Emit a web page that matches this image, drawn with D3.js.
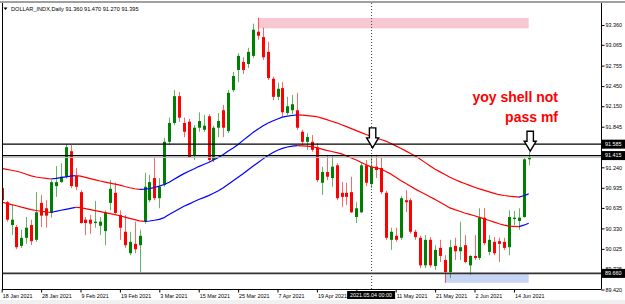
<!DOCTYPE html>
<html><head><meta charset="utf-8">
<script src="https://cdn.jsdelivr.net/npm/d3@7"></script>
<style>
html,body{margin:0;padding:0;background:#fff;overflow:hidden}
svg{display:block}
text{font-family:"Liberation Sans",Arial,sans-serif}
</style></head><body>
<svg id="c" width="625" height="304"></svg>
<script>
// ---------------- data ----------------
const symbol = "DOLLAR_INDX", period = "Daily";
const firstDay = "2021-01-18", lastDay = "2021-06-17";
const closedDays = ["2021-04-02"];

const open = [90.93,90.72,90.38,90.35,90.07,90.19,90.38,90.16,90.71,90.63,
 90.56,90.96,91.02,91.10,91.48,91.11,90.87,90.46,90.46,90.41,
 90.37,90.29,90.71,90.86,90.53,90.28,89.96,90.10,90.08,90.43,
 90.75,91.08,90.78,90.98,91.62,91.90,92.30,91.90,91.92,91.42,
 91.83,91.80,92.00,91.35,91.83,92.09,91.78,92.39,92.69,92.81,
 92.78,92.90,93.26,93.18,92.96,92.56,92.29,92.42,92.05,92.09,
 92.09,91.77,91.62,91.62,91.54,91.01,91.17,91.08,91.27,90.86,
 90.86,90.87,90.50,90.57,91.27,90.99,91.25,91.23,90.86,90.16,
 90.22,90.19,90.75,90.75,90.28,90.19,89.78,90.16,89.77,90.04,
 89.86,89.68,90.07,89.99,90.08,89.78,89.92,89.89,90.49,89.98,
 90.13,90.14,90.13,90.05,90.47,90.44,90.50,91.360];
const high = [90.96,90.74,90.68,90.38,90.31,90.50,90.46,90.87,90.83,90.75,
 91.05,91.26,91.30,91.59,91.57,91.23,90.90,90.50,90.53,90.74,
 90.50,90.60,91.05,91.01,90.60,90.53,90.28,90.43,90.31,91.16,
 91.13,91.39,91.08,91.68,91.98,92.39,92.36,91.98,91.96,91.87,
 92.06,92.02,92.03,91.86,92.05,92.17,92.39,92.66,92.94,92.88,
 93.02,93.38,93.47,93.32,93.11,92.59,92.50,92.51,92.29,92.32,
 92.35,91.80,91.75,91.72,91.60,91.25,91.42,91.42,91.30,91.02,
 91.01,91.10,90.72,91.30,91.35,91.38,91.42,91.38,90.89,90.34,
 90.34,90.81,90.90,90.78,90.31,90.22,90.23,90.20,90.08,90.16,
 89.93,90.16,90.19,90.43,90.23,89.93,90.23,90.63,90.63,90.23,
 90.20,90.19,90.19,90.60,90.59,90.63,91.38,91.470];
const low = [90.74,90.43,90.23,90.02,90.04,90.10,90.08,90.13,90.35,90.34,
 90.49,90.80,91.01,91.07,90.93,90.90,90.40,90.23,90.25,90.34,
 90.23,90.08,90.60,90.53,90.16,90.04,89.93,89.96,89.68,90.40,
 90.72,90.75,90.63,90.95,91.57,91.87,91.92,91.69,91.38,91.35,
 91.77,91.77,91.32,91.32,91.69,91.69,91.75,92.36,92.51,92.63,
 92.72,92.87,93.14,92.84,92.54,92.24,92.24,91.99,92.02,92.03,
 91.80,91.57,91.50,91.47,91.02,90.83,91.05,90.95,90.75,90.65,
 90.68,90.56,90.41,90.56,90.96,90.93,91.08,90.84,90.16,90.01,
 90.13,90.16,90.57,90.25,90.16,89.74,89.74,89.75,89.71,89.83,
 89.52,89.59,89.86,89.86,89.81,89.64,89.86,89.86,90.08,89.93,
 89.93,89.83,90.01,89.93,90.38,90.31,90.49,91.270];
const close = [90.75,90.46,90.46,90.05,90.19,90.34,90.14,90.57,90.52,90.52,
 91.02,91.02,91.10,91.54,90.96,90.95,90.41,90.41,90.40,90.43,
 90.43,90.57,90.92,90.56,90.34,90.08,90.13,90.02,90.22,90.95,
 91.02,90.78,90.95,91.62,91.90,92.30,91.98,91.77,91.39,91.83,
 91.93,91.86,91.35,91.83,91.93,91.83,92.35,92.60,92.90,92.69,
 92.96,93.29,93.20,92.88,92.57,92.29,92.41,92.06,92.15,92.18,
 91.83,91.62,91.69,91.50,91.05,91.17,91.10,91.25,90.78,90.80,
 90.80,90.57,90.63,91.27,91.01,91.25,91.20,90.87,90.19,90.28,
 90.16,90.78,90.72,90.28,90.20,89.78,90.16,89.78,90.01,89.92,
 89.68,90.05,89.99,90.05,89.83,89.92,89.89,90.49,90.11,90.16,
 89.96,90.10,90.04,90.50,90.49,90.49,91.36,91.395];

const envUpper = [91.225,91.210,91.196,91.181,91.163,91.137,91.112,91.096,91.085,91.075,
 91.066,91.075,91.087,91.097,91.108,91.117,91.109,91.090,91.072,91.054,
 91.036,91.020,91.005,90.990,90.974,90.954,90.936,90.921,90.912,90.914,
 90.923,90.939,90.959,90.984,91.018,91.061,91.105,91.146,91.182,91.215,
 91.251,91.282,91.312,91.349,91.388,91.432,91.482,91.528,91.581,91.641,
 91.699,91.757,91.808,91.854,91.896,91.929,91.960,91.987,92.002,92.012,
 92.020,92.017,92.009,92.002,91.994,91.972,91.950,91.927,91.903,91.875,
 91.847,91.817,91.787,91.757,91.728,91.702,91.678,91.655,91.631,91.596,
 91.559,91.523,91.485,91.446,91.407,91.361,91.310,91.260,91.212,91.172,
 91.132,91.091,91.059,91.027,90.999,90.971,90.944,90.918,90.896,90.874,
 90.853,90.832,90.820,90.811,90.804,90.796,90.816,90.845];
const envLower = [90.722,90.704,90.685,90.667,90.647,90.629,90.610,90.597,90.586,90.576,
 90.567,90.585,90.600,90.614,90.629,90.643,90.640,90.625,90.609,90.594,
 90.579,90.564,90.550,90.536,90.518,90.498,90.479,90.460,90.442,90.436,
 90.440,90.452,90.465,90.491,90.537,90.579,90.620,90.659,90.692,90.726,
 90.761,90.789,90.819,90.853,90.890,90.936,90.988,91.039,91.091,91.143,
 91.200,91.255,91.309,91.362,91.413,91.458,91.494,91.522,91.543,91.556,
 91.562,91.559,91.555,91.549,91.531,91.511,91.492,91.476,91.459,91.440,
 91.410,91.379,91.348,91.312,91.278,91.246,91.233,91.215,91.179,91.142,
 91.091,91.045,91.003,90.959,90.915,90.877,90.838,90.799,90.762,90.720,
 90.679,90.635,90.609,90.585,90.559,90.538,90.518,90.495,90.471,90.448,
 90.424,90.400,90.379,90.364,90.360,90.357,90.378,90.406];

const yTicks = [93.360,93.065,92.755,92.450,92.150,91.845,91.540,91.240,90.935,90.635,90.330,90.025,89.725,89.420];
const yTicksHidden = [91.540];
const xTickDates = ["2021-01-18","2021-01-28","2021-02-09","2021-02-19","2021-03-03","2021-03-15","2021-03-25","2021-04-07","2021-04-19","2021-04-29","2021-05-11","2021-05-21","2021-06-02","2021-06-14"];
const xTicksHidden = ["2021-04-29"];
const levels = [91.585, 91.415, 89.660];
const zoneDates = [["2021-03-31","2021-06-17"],["2021-05-25","2021-06-17"]];
const zonePrices = [[93.465,93.31],[89.65,89.52]];
const zoneColors = ["#f8c8d2","#c8d4f4"];
const arrowDates = ["2021-05-04","2021-06-17"];
const arrowPrices = [91.53, 91.48];
const crossDate = "2021-05-04";
const crossLabel = "2021.05.04 00:00";
const note = ["yoy shell not","pass mf"];

// ---------------- layout ----------------
const W = 625, H = 304;
const L = 2, R = 601, T = 3, B = 289.5;
const parse = d3.timeParse("%Y-%m-%d"), fmt = d3.timeFormat("%Y-%m-%d");
const dates = d3.timeDay.range(parse(firstDay), d3.timeDay.offset(parse(lastDay), 1))
  .filter(d => d.getDay() % 6 !== 0 && !closedDays.includes(fmt(d))).map(fmt);

const x = d3.scalePoint().domain(dates).range([1.7, 528.7]);
const y = d3.scaleLinear().domain([89.42, 93.36]).range([289.5, 25]);

const svg = d3.select("#c");
svg.append("rect").attr("width", W).attr("height", H).attr("fill", "#fff");
svg.append("rect").attr("x", 0).attr("y", 1).attr("width", W).attr("height", 2).attr("fill", "#a0a0a0");
svg.append("rect").attr("x", 0).attr("y", 300).attr("width", W).attr("height", 4).attr("fill", "#f0f0f0");

svg.append("clipPath").attr("id", "pc").append("rect")
  .attr("x", L).attr("y", T).attr("width", R - L).attr("height", B - T);
const plot = svg.append("g").attr("clip-path", "url(#pc)");

// zones
plot.selectAll("rect.zone").data(zoneDates).join("rect").attr("class", "zone")
  .attr("x", (d) => x(d[0]))
  .attr("width", (d) => x(d[1]) - x(d[0]))
  .attr("y", (d, i) => y(zonePrices[i][0]))
  .attr("height", (d, i) => y(zonePrices[i][1]) - y(zonePrices[i][0]))
  .attr("fill", (d, i) => zoneColors[i]);

// candles
const bull = "#008000", bear = "#ff0000";
const idx = d3.range(dates.length);
const cx = i => Math.round(x(dates[i]));
plot.selectAll("line.wick").data(idx).join("line").attr("class", "wick")
  .attr("x1", i => cx(i) + 0.5).attr("x2", i => cx(i) + 0.5)
  .attr("y1", i => y(high[i])).attr("y2", i => y(low[i]))
  .attr("stroke", i => close[i] >= open[i] ? bull : bear)
  .attr("stroke-opacity", 0.6).attr("stroke-width", 1);
plot.selectAll("rect.body").data(idx).join("rect").attr("class", "body")
  .attr("x", i => cx(i) - 1).attr("width", 3)
  .attr("y", i => y(Math.max(open[i], close[i])))
  .attr("height", i => Math.max(1, Math.abs(y(open[i]) - y(close[i]))))
  .attr("fill", i => close[i] >= open[i] ? bull : bear);

// envelope lines coloured by slope
function drawSlope(vals) {
  let runs = [], cur = null;
  for (let i = 1; i < vals.length; i++) {
    const up = vals[i] >= vals[i - 1];
    if (!cur || cur.up !== up) { cur = { up, pts: [i - 1] }; runs.push(cur); }
    cur.pts.push(i);
  }
  const ln = d3.line().x(i => x(dates[i])).y(i => y(vals[i]));
  plot.append("g").selectAll("path").data(runs).join("path")
    .attr("d", r => ln(r.pts)).attr("fill", "none")
    .attr("stroke", r => r.up ? "#0000ff" : "#ff0000")
    .attr("stroke-width", 1.2).attr("stroke-linejoin", "round");
}
drawSlope(envUpper);
drawSlope(envLower);

// bid line
plot.append("line").attr("x1", L).attr("x2", R)
  .attr("y1", y(close[close.length - 1]) + 0.5).attr("y2", y(close[close.length - 1]) + 0.5)
  .attr("stroke", "#c0c0c0").attr("stroke-width", 1);

// horizontal levels
plot.selectAll("line.lvl").data(levels).join("line").attr("class", "lvl")
  .attr("x1", L).attr("x2", R)
  .attr("y1", d => y(d)).attr("y2", d => y(d))
  .attr("stroke", (d, i) => i === 2 ? "#333" : "#000")
  .attr("stroke-width", (d, i) => i === 2 ? 1.6 : 1.2);

// crosshair vertical dotted
plot.append("line").attr("x1", x(crossDate) + 0.5).attr("x2", x(crossDate) + 0.5)
  .attr("y1", T).attr("y2", B).attr("stroke", "#404040")
  .attr("stroke-dasharray", "1,2").attr("stroke-width", 1);

// arrows (outlined down arrows, tip at price)
const arrowPath = (cxp, tip) => {
  const sw = 3.2, hw = 6, hh = 10, sh = 10;
  return `M${cxp - sw},${tip - hh - sh} H${cxp + sw} V${tip - hh} H${cxp + hw} L${cxp},${tip} L${cxp - hw},${tip - hh} H${cxp - sw} Z`;
};
plot.selectAll("path.arrow").data(arrowDates).join("path").attr("class", "arrow")
  .attr("d", (d, i) => arrowPath(x(d) + 1.5, y(arrowPrices[i])))
  .attr("fill", "#fff").attr("stroke", "#000").attr("stroke-width", 1.4)
  .attr("stroke-linejoin", "miter");

// frame
svg.append("line").attr("x1", L + 0.5).attr("x2", L + 0.5).attr("y1", T).attr("y2", B).attr("stroke", "#000");

// axes
const fs = 5.4;
const yAxis = d3.axisRight(y).tickValues(yTicks).tickSize(3)
  .tickFormat(d => yTicksHidden.includes(d) ? "" : d3.format(".3f")(d));
const gy = svg.append("g").attr("transform", `translate(${R + 0.5},0)`).call(yAxis);
gy.select(".domain").attr("d", `M0,${T}V${B}`).attr("stroke", "#000");
gy.selectAll("text").attr("x", 4).attr("font-size", fs).attr("fill", "#000")
  .attr("font-family", "Liberation Sans, Arial, sans-serif");

const xAxis = d3.axisBottom(x).tickValues(xTickDates).tickSize(3)
  .tickFormat(d => xTicksHidden.includes(d) ? "" : d3.timeFormat("%-d %b %Y")(parse(d)));
const gx = svg.append("g").attr("transform", `translate(0,${B})`).call(xAxis);
gx.select(".domain").attr("d", `M${L},0H${R}`).attr("stroke", "#000");
gx.selectAll(".tick line").attr("stroke", "#000");
gx.selectAll("text").attr("text-anchor", "start").attr("dx", 0.5).attr("y", 5)
  .attr("font-size", fs).attr("fill", "#000")
  .attr("font-family", "Liberation Sans, Arial, sans-serif");

// price labels on axis
const lab = svg.append("g");
levels.forEach(p => {
  lab.append("rect").attr("x", R + 0.5).attr("y", y(p) - 4.5).attr("width", W - R).attr("height", 9).attr("fill", "#000");
  lab.append("text").attr("x", R + 4).attr("y", y(p)).attr("dy", "0.35em")
    .attr("font-size", fs).attr("fill", "#fff").text(d3.format(".3f")(p));
});

// crosshair date label
const cxl = x(crossDate);
lab.append("rect").attr("x", cxl - 24).attr("y", B + 1.5).attr("width", 48).attr("height", 8).attr("fill", "#000");
lab.append("text").attr("x", cxl).attr("y", B + 5.5).attr("dy", "0.35em").attr("text-anchor", "middle")
  .attr("font-size", fs).attr("fill", "#fff").text(crossLabel);

// header
const n = close.length - 1;
svg.append("path").attr("d", "M3.5,7.5 H7.5 L5.5,10 Z").attr("fill", "#000");
svg.append("text").attr("x", 11).attr("y", 9.2).attr("dy", "0.35em").attr("font-size", 5.6).attr("fill", "#000")
  .text(`${symbol},${period}  ${[open[n], high[n], low[n], close[n]].map(d3.format(".3f")).join(" ")}`);

// note
svg.append("text").attr("x", 558).attr("y", 102).attr("text-anchor", "end")
  .attr("font-size", 14).attr("font-weight", "bold").attr("fill", "#ff0000").text(note[0]);
svg.append("text").attr("x", 558).attr("y", 122).attr("text-anchor", "end")
  .attr("font-size", 14).attr("font-weight", "bold").attr("fill", "#ff0000").text(note[1]);
</script>
</body></html>
